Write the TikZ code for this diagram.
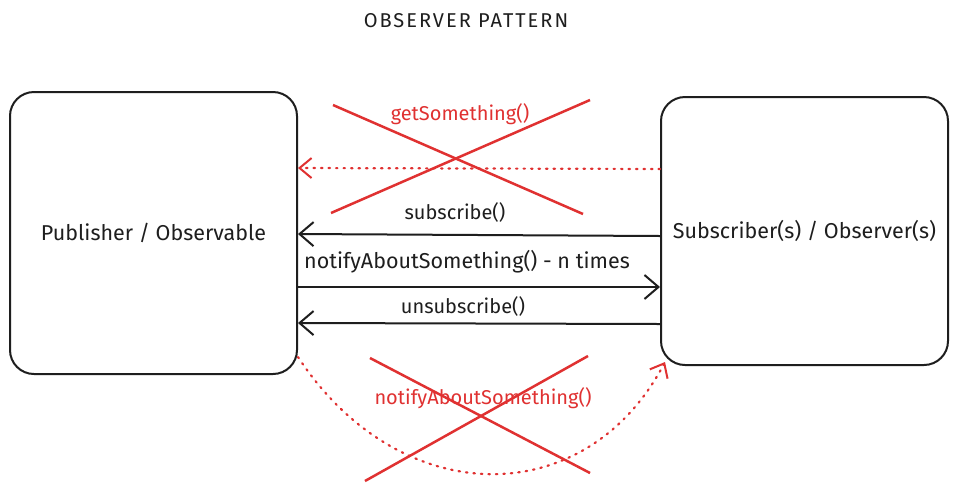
\documentclass[tikz,border=0pt]{standalone}
\usepackage{fontspec}
\setmainfont{Fira Sans}
\usetikzlibrary{arrows.meta}
\definecolor{ink}{HTML}{1E1E1E}
\definecolor{xred}{HTML}{E03131}
\tikzset{
  box/.style={draw=ink, line width=2pt, rounded corners=24pt, inner sep=0pt},
  lbl/.style={font=\fontsize{20}{24}\selectfont, text=ink, inner sep=0pt},
  blbl/.style={font=\fontsize{21.5}{24}\selectfont, text=ink, inner sep=0pt},
  rlbl/.style={font=\fontsize{20}{24}\selectfont, text=xred, inner sep=0pt},
  arr/.style={draw=ink, line width=2pt, -{Straight Barb[length=14pt,width=24pt,line width=2pt]}},
  rdot/.style={draw=xred, line width=2.2pt, line cap=round, dash pattern=on 1.5pt off 6pt, -{Straight Barb[length=12pt,width=20pt,line width=2pt]}},
  cross/.style={draw=xred, line width=2.5pt}
}
\begin{document}
\begin{tikzpicture}[x=1pt,y=-1pt]
\useasboundingbox[fill=white] (0,0) rectangle (960,491);
\node[font=\fontsize{20}{24}\selectfont\addfontfeatures{LetterSpace=10}, text=ink] (title) at (466,21) {OBSERVER PATTERN};
\node[box, minimum width=287pt, minimum height=282pt] (pub) at (153.5,233) {};
\node[blbl] (publbl) at (pub.center) {Publisher / Observable};
\node[box, minimum width=287pt, minimum height=268pt] (sub) at (804.5,231) {};
\node[blbl] (sublbl) at (sub.center) {Subscriber(s) / Observer(s)};
% upper crossed call
\draw[rdot] (sub.west |- 0,169) -- (pub.east |- 0,168);
\draw[cross] (333,105) -- (583,214);
\draw[cross] (590,100) -- (331,213);
\node[rlbl] (get) at (460,114) {getSomething()};
% main calls
\draw[arr] (sub.west |- 0,236) -- (pub.east |- 0,234);
\node[lbl] (subs) at (455,212) {subscribe()};
\draw[arr] (pub.east |- 0,287) -- (sub.west |- 0,287);
\node[lbl, font=\fontsize{21.5}{24}\selectfont] (notify) at (467,262) {notifyAboutSomething() - n times};
\draw[arr] (sub.west |- 0,324) -- (pub.east |- 0,323);
\node[lbl] (unsub) at (463,306) {unsubscribe()};
% lower crossed call
\coordinate (cs) at (298,357);
\coordinate (ce) at (665,362);
\draw[rdot] (cs) .. controls (400,512) and (586,512) .. (ce);
\draw[cross] (370,358) -- (590,473);
\draw[cross] (588,356) -- (365,481);
\node[rlbl] (notify2) at (483,398) {notifyAboutSomething()};
\end{tikzpicture}
\end{document}
